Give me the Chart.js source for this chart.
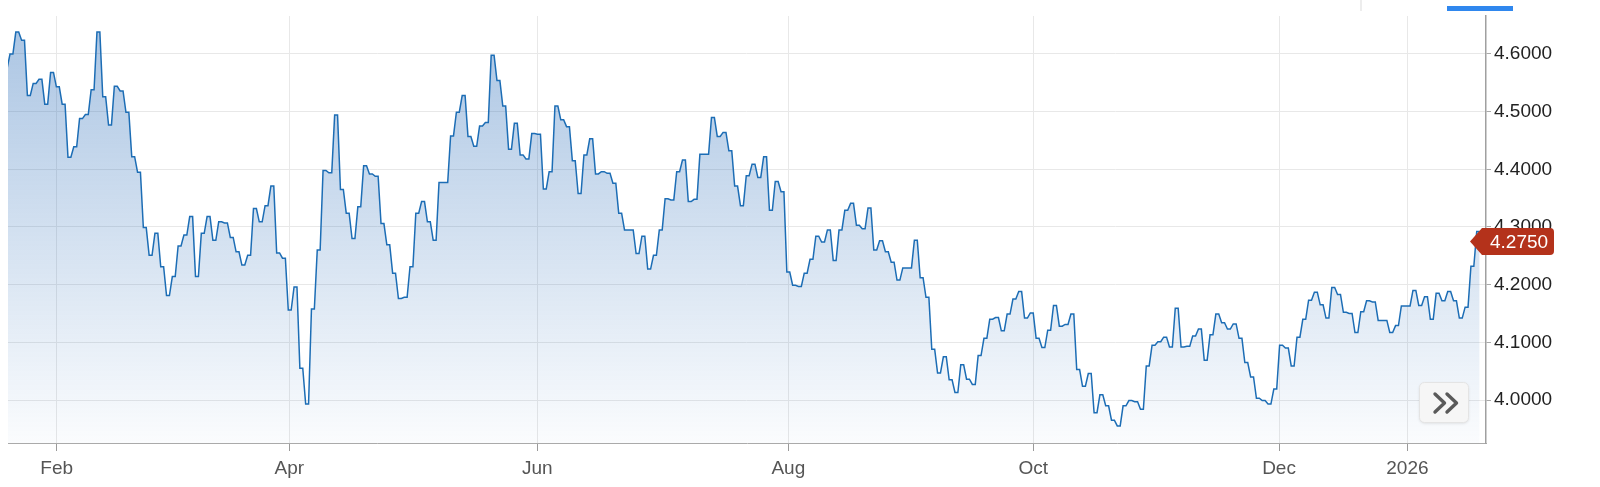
<!DOCTYPE html>
<html>
<head>
<meta charset="utf-8">
<script src="https://cdn.jsdelivr.net/npm/chart.js@4/dist/chart.umd.min.js"></script>
<style>
  html, body { margin: 0; padding: 0; background: #fff; }
  #wrap { width: 1600px; height: 487px; }
</style>
</head>
<body>
<div id="wrap"><canvas id="yieldChart" width="1600" height="487"></canvas></div>
<script>
// one value per trading day, Jan 2025 -> Jan 2026
const yields = [
  4.575,4.600,4.638,4.624,4.528,4.549,4.556,4.513,4.568,4.543,
  4.513,4.421,4.439,4.488,4.495,4.538,4.638,4.526,4.477,4.544,
  4.536,4.499,4.422,4.395,4.299,4.251,4.289,4.231,4.181,4.214,
  4.267,4.286,4.318,4.214,4.289,4.318,4.277,4.309,4.307,4.282,
  4.257,4.234,4.251,4.332,4.309,4.337,4.371,4.255,4.246,4.156,
  4.196,4.055,3.993,4.158,4.260,4.398,4.394,4.494,4.365,4.324,
  4.280,4.335,4.406,4.392,4.388,4.306,4.269,4.220,4.176,4.178,
  4.231,4.324,4.344,4.309,4.277,4.377,4.377,4.458,4.499,4.528,
  4.457,4.440,4.475,4.481,4.598,4.554,4.510,4.435,4.480,4.425,
  4.418,4.462,4.461,4.366,4.396,4.510,4.486,4.474,4.415,4.358,
  4.425,4.453,4.392,4.396,4.393,4.376,4.324,4.295,4.295,4.254,
  4.284,4.227,4.251,4.295,4.349,4.347,4.396,4.416,4.344,4.348,
  4.426,4.426,4.490,4.457,4.464,4.432,4.371,4.337,4.389,4.409,
  4.386,4.422,4.329,4.379,4.361,4.222,4.199,4.197,4.220,4.244,
  4.284,4.274,4.295,4.242,4.295,4.329,4.341,4.303,4.297,4.333,
  4.260,4.276,4.257,4.239,4.208,4.229,4.229,4.277,4.212,4.178,
  4.088,4.047,4.075,4.035,4.013,4.061,4.036,4.027,4.077,4.107,
  4.140,4.143,4.120,4.149,4.175,4.188,4.142,4.151,4.107,4.091,
  4.121,4.164,4.128,4.131,4.149,4.053,4.024,4.046,3.978,4.009,
  3.990,3.965,3.955,3.990,3.999,3.997,3.984,4.059,4.095,4.101,
  4.109,4.092,4.159,4.092,4.093,4.111,4.123,4.069,4.113,4.149,
  4.134,4.123,4.132,4.107,4.065,4.040,4.003,3.999,3.993,4.019,
  4.095,4.090,4.059,4.109,4.140,4.173,4.187,4.165,4.142,4.195,
  4.183,4.152,4.150,4.117,4.153,4.172,4.170,4.138,4.138,4.117,
  4.129,4.163,4.163,4.190,4.164,4.179,4.140,4.185,4.172,4.188,
  4.172,4.142,4.161,4.232,4.292
];
const monthLabels = ["Feb", "Apr", "Jun", "Aug", "Oct", "Dec", "2026"];
const monthPos    = [9.06, 49.18, 91.96, 135.26, 177.5, 219.9, 242.04]; // trading-day index of month start
const yTicks      = [4.0, 4.1, 4.2, 4.3, 4.4, 4.5, 4.6];
const lastQuote   = 4.275;

// each day is drawn as a short flat run, like the source chart
const points = [];
yields.forEach((v, i) => { points.push({x: i, y: v}); points.push({x: i + 0.5, y: v}); });

const FONT = "'Liberation Sans', Arial, Helvetica, sans-serif";

const extras = {
  id: "extras",
  afterDraw(chart) {
    const c = chart.ctx, y = chart.scales.y;
    c.save();
    // bits of the page toolbar above the chart
    c.fillStyle = "#dcdcdc"; c.fillRect(1360.5, 0, 1, 11);
    c.fillStyle = "#2f87ee"; c.fillRect(1447, 6, 66, 5);

    // "»" button
    c.shadowColor = "rgba(0,0,0,0.12)"; c.shadowBlur = 3; c.shadowOffsetY = 1;
    c.fillStyle = "#f6f6f6";
    c.beginPath(); c.roundRect(1419.5, 382.5, 49, 40, 5); c.fill();
    c.shadowColor = "transparent";
    c.strokeStyle = "#e4e4e4"; c.lineWidth = 1; c.stroke();
    c.strokeStyle = "#5a5a5a"; c.lineWidth = 3.4; c.lineCap = "round"; c.lineJoin = "round";
    [1435, 1447].forEach(x0 => {
      c.beginPath(); c.moveTo(x0, 394); c.lineTo(x0 + 9.5, 403); c.lineTo(x0, 412); c.stroke();
    });

    // last quote flag
    const py = Math.round(y.getPixelForValue(lastQuote)) + 0.5;
    c.fillStyle = "#b4321b";
    c.beginPath();
    c.moveTo(1470, py);
    c.lineTo(1482, py - 13.5);
    c.lineTo(1550, py - 13.5);
    c.quadraticCurveTo(1554, py - 13.5, 1554, py - 9.5);
    c.lineTo(1554, py + 9.5);
    c.quadraticCurveTo(1554, py + 13.5, 1550, py + 13.5);
    c.lineTo(1482, py + 13.5);
    c.closePath(); c.fill();
    c.fillStyle = "#fff"; c.font = "19px " + FONT;
    c.textAlign = "left"; c.textBaseline = "middle";
    c.fillText(lastQuote.toFixed(4), 1490, py + 1);
    c.restore();
  }
};

new Chart(document.getElementById("yieldChart").getContext("2d"), {
  type: "line",
  data: {
    datasets: [{
      data: points,
      borderColor: "#1c6db5",
      borderWidth: 1.5,
      pointRadius: 0,
      tension: 0,
      fill: "start",
      backgroundColor: (ctx) => {
        const a = ctx.chart.chartArea;
        if (!a) return "rgba(30,100,180,0.2)";
        const g = ctx.chart.ctx.createLinearGradient(0, a.top, 0, a.bottom);
        g.addColorStop(0, "rgba(30,100,180,0.38)");
        g.addColorStop(1, "rgba(30,100,180,0.02)");
        return g;
      }
    }]
  },
  options: {
    responsive: false,
    animation: false,
    events: [],
    layout: { padding: { left: 8, top: 16, right: 0, bottom: 0 } },
    plugins: { legend: { display: false }, tooltip: { enabled: false } },
    scales: {
      x: {
        type: "linear", min: 0.655, max: 255.6,
        afterBuildTicks: (s) => { s.ticks = monthPos.map(v => ({value: v})); },
        afterFit: (s) => { s.height = 44; },
        ticks: { callback: (v, i) => monthLabels[i], color: "#555", font: {family: FONT, size: 19}, padding: 6, maxRotation: 0, autoSkip: false },
        grid: { color: "#e8e8e8", lineWidth: 1, tickLength: 8, tickColor: "#9a9a9a" },
        border: { color: "#aaa", width: 1 }
      },
      y: {
        position: "right", min: 3.92544, max: 4.66588,
        afterBuildTicks: (s) => { s.ticks = yTicks.map(v => ({value: v})); },
        afterFit: (s) => { s.width = 114; },
        ticks: { callback: (v) => Number(v).toFixed(4), color: "#222", font: {family: FONT, size: 19}, padding: 3 },
        grid: { color: "#e8e8e8", lineWidth: 1, tickLength: 5, tickColor: "#aaa" },
        border: { color: "#a0a0a0", width: 1.5 }
      }
    }
  },
  plugins: [extras]
});
</script>
</body>
</html>
